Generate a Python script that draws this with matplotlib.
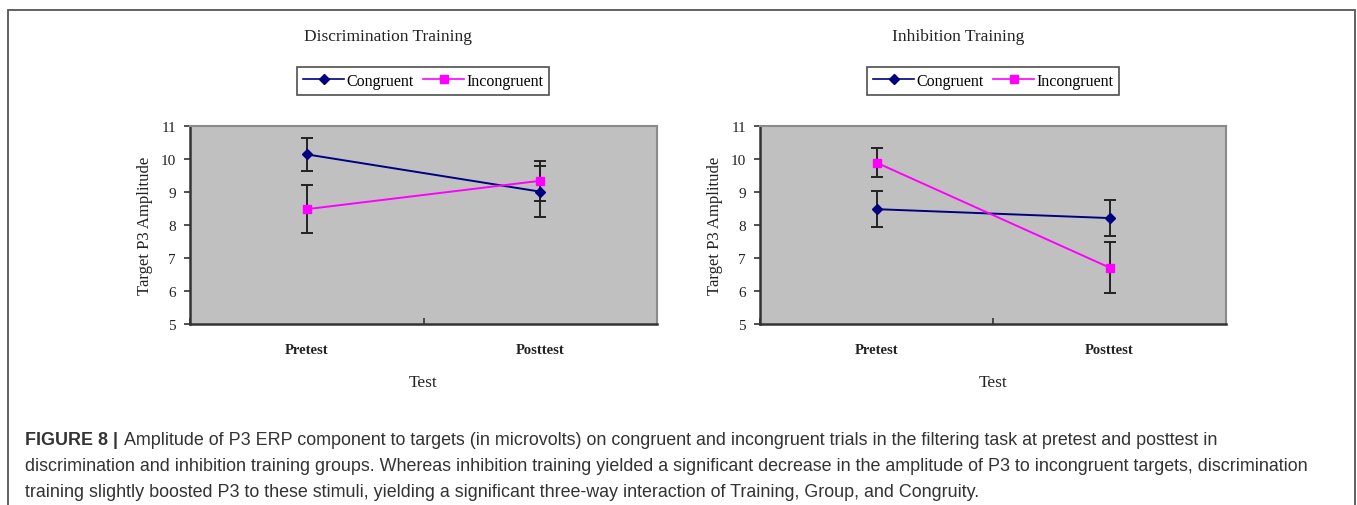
import matplotlib.pyplot as plt
from matplotlib.patches import Rectangle
from matplotlib.lines import Line2D

# data
tests = ["Pretest", "Posttest"]
titles = ["Discrimination Training", "Inhibition Training"]

disc_congruent = [10.14, 9.01]
disc_congruent_err = [0.50, 0.77]
disc_incongruent = [8.48, 9.34]
disc_incongruent_err = [0.73, 0.60]

inhib_congruent = [8.48, 8.21]
inhib_congruent_err = [0.55, 0.55]
inhib_incongruent = [9.89, 6.71]
inhib_incongruent_err = [0.44, 0.77]

caption_head = "FIGURE 8 |"
caption_lines = [
    "Amplitude of P3 ERP component to targets (in microvolts) on congruent and incongruent trials in the filtering task at pretest and posttest in",
    "discrimination and inhibition training groups. Whereas inhibition training yielded a significant decrease in the amplitude of P3 to incongruent targets, discrimination",
    "training slightly boosted P3 to these stimuli, yielding a significant three-way interaction of Training, Group, and Congruity.",
]

W, H = 1357, 506
fig = plt.figure(figsize=(W / 100, H / 100), dpi=100)
fig.patch.set_facecolor("white")

serif = ["Liberation Serif", "DejaVu Serif"]

# outer frame round the whole figure
fig.patches.append(Rectangle((8 / W, -0.01), (1355 - 8) / W, 1 - 11 / H + 0.01,
                             transform=fig.transFigure, fill=False,
                             edgecolor="#555555", linewidth=1.3))


def px_axes(left, top, right, bottom):
    return fig.add_axes([left / W, 1 - bottom / H, (right - left) / W, (bottom - top) / H])


panels = [
    (px_axes(190, 127, 657, 325), disc_congruent, disc_congruent_err,
     disc_incongruent, disc_incongruent_err, 190),
    (px_axes(760, 127, 1226, 325), inhib_congruent, inhib_congruent_err,
     inhib_incongruent, inhib_incongruent_err, 760),
]

cong_color = "#000080"
incong_color = "#FF00FF"

x = [0, 1]
for i, (ax, c, ce, inc, ince, left) in enumerate(panels):
    ax.set_facecolor("#C0C0C0")
    ax.errorbar(x, c, yerr=ce, color=cong_color, marker="D", markersize=5,
                linewidth=1.4, ecolor="#222222", elinewidth=1.4, capsize=4,
                capthick=1.4, zorder=3)
    ax.errorbar(x, inc, yerr=ince, color=incong_color, marker="s", markersize=6,
                linewidth=1.4, ecolor="#222222", elinewidth=1.4, capsize=4,
                capthick=1.4, zorder=3)

    ax.set_xlim(-0.5, 1.5)
    ax.set_ylim(5, 11)
    ax.set_yticks(range(5, 12))
    ax.set_xticks([-0.5, 0.5, 1.5])
    ax.set_xticklabels([])
    ax.set_xticks(x, minor=True)
    ax.set_xticklabels(tests, minor=True, fontfamily=serif, fontsize=10.5,
                       fontweight="bold", color="#222222")
    ax.tick_params(axis="x", which="minor", length=0, pad=14)
    ax.tick_params(axis="x", which="major", direction="in", length=4, width=1.2,
                   color="#333333")
    ax.tick_params(axis="y", direction="out", length=4, width=1.2, color="#333333",
                   pad=6)
    for lab in ax.get_yticklabels():
        lab.set_fontfamily(serif)
        lab.set_fontsize(11)
        lab.set_color("#222222")

    for side in ["top", "right"]:
        ax.spines[side].set_color("#8A8A8A")
        ax.spines[side].set_linewidth(1.5)
    for side in ["left", "bottom"]:
        ax.spines[side].set_color("#333333")
        ax.spines[side].set_linewidth(1.8)

    ax.set_xlabel("Test", fontfamily=serif, fontsize=12.5, color="#222222", labelpad=13)
    ax.set_ylabel("Target P3 Amplitude", fontfamily=serif, fontsize=12, color="#222222",
                  labelpad=6)

    fig.text((left + 198) / W, 1 - 37 / H, titles[i], ha="center", va="center",
             fontfamily=serif, fontsize=12.5, color="#222222")

    handles = [
        Line2D([], [], color=cong_color, marker="D", markersize=5, linewidth=1.2),
        Line2D([], [], color=incong_color, marker="s", markersize=6, linewidth=1.2),
    ]
    leg = ax.legend(handles, ["Congruent", "Incongruent"], loc="center",
                    bbox_to_anchor=((left + 233) / W, 1 - 82 / H),
                    bbox_transform=fig.transFigure, ncol=2, frameon=True,
                    fancybox=False, prop={"family": serif, "size": 11.5},
                    handlelength=2.6, handletextpad=0.1, columnspacing=0.6,
                    borderpad=0.35, borderaxespad=0)
    leg.get_frame().set_edgecolor("#222222")
    leg.get_frame().set_linewidth(1.2)

# caption
y0 = 441
t = fig.text(25 / W, 1 - y0 / H, caption_head, ha="left", va="center",
             fontfamily="Liberation Sans", fontweight="bold", fontsize=12.9,
             color="#333333")
fig.canvas.draw()
bb = t.get_window_extent()
head_end = bb.x1 + 6
for k, line in enumerate(caption_lines):
    xs = head_end / W if k == 0 else 25 / W
    fig.text(xs, 1 - (y0 + 26 * k) / H, line, ha="left", va="center",
             fontfamily="Liberation Sans", fontsize=12.9, color="#333333")

fig.savefig("out.png", dpi=100)
